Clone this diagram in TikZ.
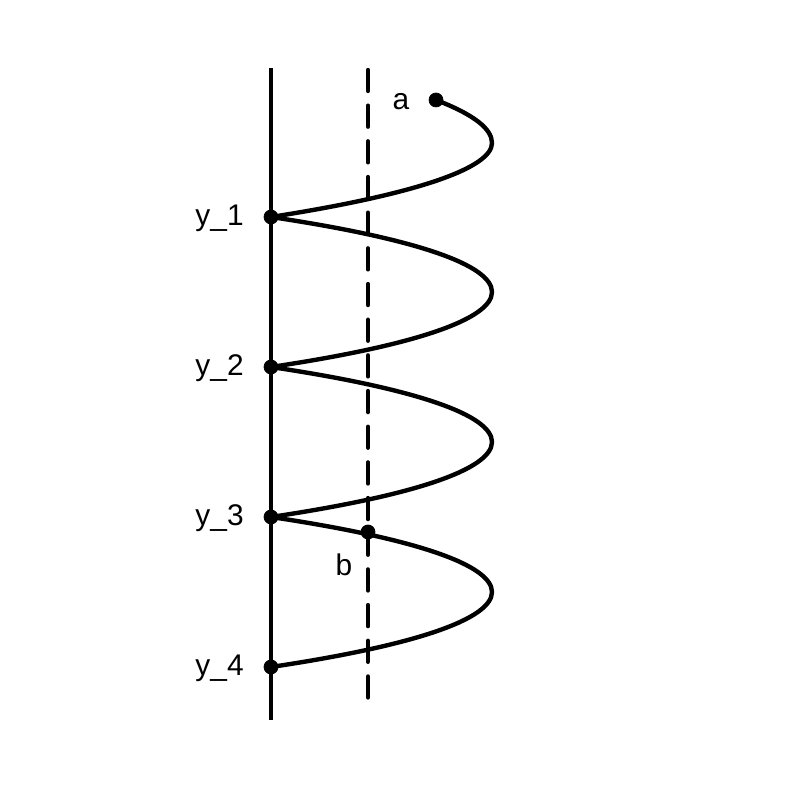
\documentclass[tikz,border=0pt]{standalone}
\usepackage{fontspec}
\setmainfont{Liberation Sans}
\usepackage{tikz}
\usetikzlibrary{calc, positioning}
\tikzstyle{axis} = [line width=2.5pt]
\tikzstyle{guide} = [line width=2.5pt, line cap=round, dash pattern=on 0.42cm off 0.2935cm]
\tikzstyle{spiral} = [line width=2.5pt, line join=round]
\tikzstyle{lbl} = [font=\fontsize{17}{20}\selectfont, inner sep=0pt]

\begin{document}
\begin{tikzpicture}
        \useasboundingbox (0, 0) rectangle (16, 16);

        \coordinate (axisTop) at (5.42, 14.64);
        \coordinate (axisBot) at (5.42, 1.6);
        \coordinate (guideTop) at (7.36, 14.60);
        \coordinate (guideBot) at (7.36, 2.04);

        \coordinate (y1) at (5.42, 11.66);
        \coordinate (y2) at (5.42, 8.66);
        \coordinate (y3) at (5.42, 5.66);
        \coordinate (y4) at (5.42, 2.66);
        \coordinate (a) at (8.72, 14.0);
        \coordinate (b) at (7.36, 5.36);
        \coordinate (bend) at (9.84, 13.14);

        \node[lbl, anchor=east] at (4.88, 11.64) (y1label) {y\_1};
        \node[lbl, anchor=east] at (4.88, 8.64) (y2label) {y\_2};
        \node[lbl, anchor=east] at (4.88, 5.64) (y3label) {y\_3};
        \node[lbl, anchor=east] at (4.88, 2.64) (y4label) {y\_4};
        \node[lbl] at (8.02, 13.96) (alabel) {a};
        \node[lbl] at (6.88, 4.7) (blabel) {b};

        \draw[axis] (axisTop) -- (axisBot);
        \draw[guide] (guideTop) -- (guideBot);

        \draw[spiral] (a) .. controls +(0.747, -0.287) and +(0, 0.287) .. (bend)
                .. controls +(0, -0.493) and +(2.947, 0.46) .. (y1)
                .. controls +(5.893, -0.88) and +(5.893, 0.88) .. (y2)
                .. controls +(5.893, -0.88) and +(5.893, 0.88) .. (y3)
                .. controls +(5.893, -0.88) and +(5.893, 0.88) .. (y4);

        \filldraw[color=black] (y1) circle (0.14);
        \filldraw[color=black] (y2) circle (0.14);
        \filldraw[color=black] (y3) circle (0.14);
        \filldraw[color=black] (y4) circle (0.14);
        \filldraw[color=black] (a) circle (0.14);
        \filldraw[color=black] (b) circle (0.14);

    \end{tikzpicture}
\end{document}
